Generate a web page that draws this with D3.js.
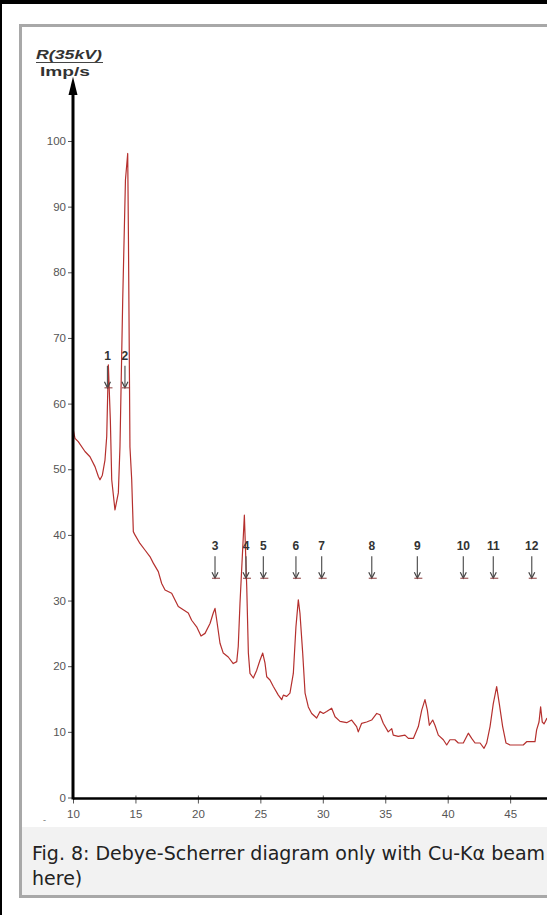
<!DOCTYPE html>
<meta charset="utf-8">
<script src="https://d3js.org/d3.v7.min.js"></script>
<style>
  body{margin:0;background:#fff;}
  svg{display:block;}
  .tick text{font-family:"Liberation Sans Narrow","Liberation Sans",Arial,sans-serif;font-size:11.5px;fill:#555;}
</style>
<div id="chart"></div>
<script>

// 2-theta (deg) vs count rate
var twoTheta = [10.02,10.16,10.42,10.96,11.36,11.76,12.03,12.16,12.35,12.56,12.70,12.83,12.99,13.10,13.36,13.63,13.76,13.98,14.20,14.38,14.44,14.56,14.70,14.83,14.96,15.36,15.76,16.16,16.43,16.83,17.10,17.37,17.90,18.43,18.83,19.23,19.50,19.90,20.25,20.57,20.97,21.23,21.37,21.51,21.77,22.03,22.43,22.83,23.11,23.23,23.37,23.72,23.91,24.04,24.17,24.44,24.71,24.97,25.19,25.37,25.51,25.77,26.04,26.44,26.71,26.84,27.11,27.37,27.64,27.85,28.04,28.17,28.39,28.58,28.84,29.11,29.51,29.78,30.04,30.31,30.71,30.98,31.38,31.91,32.31,32.71,32.84,33.11,33.51,33.91,34.32,34.58,34.84,35.24,35.52,35.64,36.04,36.58,36.85,37.25,37.65,37.92,38.18,38.37,38.53,38.80,38.98,39.25,39.65,39.92,40.18,40.58,40.85,41.25,41.65,41.92,42.19,42.59,42.91,43.12,43.39,43.65,43.92,44.13,44.40,44.67,44.99,45.52,46.05,46.32,46.72,46.99,47.12,47.31,47.44,47.57,47.71,47.95]
var rate = [56.0,54.7,54.2,52.7,51.9,50.4,48.9,48.4,49.1,51.4,55.0,65.9,57.5,48.4,43.8,46.4,53.4,75.8,94.1,98.1,84.9,53.4,48.4,40.5,40.0,38.7,37.7,36.7,35.7,34.4,32.6,31.6,31.1,29.1,28.6,28.1,27.0,26.0,24.6,25.0,26.5,28.1,28.8,27.0,23.5,22.0,21.4,20.4,20.7,23.0,29.6,43.0,32.1,22.0,18.9,18.2,19.4,20.9,22.0,20.5,18.4,17.9,16.9,15.6,14.9,15.6,15.4,15.9,18.9,26.0,30.1,28.1,22.0,15.9,13.8,12.8,12.1,13.1,12.8,13.1,13.6,12.3,11.6,11.4,11.8,10.8,10.0,11.3,11.5,11.8,12.8,12.6,11.3,10.0,10.5,9.5,9.3,9.5,9.0,9.0,10.8,13.3,14.9,13.3,11.0,11.8,11.0,9.5,8.8,8.0,8.8,8.8,8.3,8.3,9.8,9.0,8.3,8.3,7.5,8.3,10.8,14.3,16.9,14.3,10.8,8.3,8.0,8.0,8.0,8.5,8.5,8.5,10.3,11.5,13.8,11.5,11.2,12.1]

// reflex markers
var markerLabels = ["1","2","3","4","5","6","7","8","9","10","11","12"]
var markerAngle = [12.76,14.16,21.37,23.85,25.24,27.85,29.91,33.92,37.57,41.25,43.65,46.73]
var markerLevel = [62.4,62.4,33.4,33.4,33.4,33.4,33.4,33.4,33.4,33.4,33.4,33.4]

var xTicks = [10,15,20,25,30,35,40,45]
var yTicks = [0,10,20,30,40,50,60,70,80,90,100]

var W = 547, H = 915

var svg = d3.select("#chart").append("svg")
  .attr("width", W).attr("height", H)

// outer black edge
svg.append("rect").attr("x",0).attr("y",0).attr("width",W).attr("height",4).attr("fill","#000")
svg.append("rect").attr("x",0).attr("y",0).attr("width",2).attr("height",H).attr("fill","#000")

// grey figure frame + caption band
svg.append("rect").attr("x",20.5).attr("y",25.5).attr("width",700).attr("height",871)
  .attr("fill","#fff").attr("stroke","#a8a8a8").attr("stroke-width",3)
svg.append("rect").attr("x",22).attr("y",827).attr("width",700).attr("height",68).attr("fill","#f2f2f2")

var caption = svg.append("text").attr("font-family","DejaVu Sans").attr("font-size",19).attr("fill","#222")
caption.append("tspan").attr("x",32).attr("y",860).text("Fig. 8: Debye-Scherrer diagram only with Cu-K\u03b1 beam")
caption.append("tspan").attr("x",32).attr("y",885).text("here)")

var x = d3.scaleLinear().domain([10,48]).range([73, 73+38*12.49])
var y = d3.scaleLinear().domain([0,100]).range([797.5,141])

// data line
svg.append("path")
  .datum(d3.range(twoTheta.length))
  .attr("fill","none")
  .attr("stroke","#b5302e")
  .attr("stroke-width",1.2)
  .attr("stroke-linejoin","round")
  .attr("d", d3.line().x(function(i){return x(twoTheta[i])}).y(function(i){return y(rate[i])}))

// y axis
var yAxis = d3.axisLeft(y).tickValues(yTicks).tickSize(5).tickPadding(2)
var gy = svg.append("g").attr("transform","translate("+x(10)+",0)").call(yAxis)
gy.select(".domain").remove()
gy.selectAll(".tick line").attr("stroke","#555").attr("stroke-width",1)

// x axis
var xAxis = d3.axisBottom(x).tickValues(xTicks).tickSize(5).tickPadding(6)
var gx = svg.append("g").attr("transform","translate(0,"+(y(0)+1)+")").call(xAxis)
gx.select(".domain").remove()
gx.selectAll(".tick line").attr("stroke","#555").attr("stroke-width",1).attr("y1",-3)

svg.append("line").attr("x1",x(10)).attr("x2",W+5).attr("y1",y(0)+1).attr("y2",y(0)+1)
  .attr("stroke","#000").attr("stroke-width",2.5)
svg.append("line").attr("x1",x(10)).attr("x2",x(10)).attr("y1",y(0)+2).attr("y2",y(108))
  .attr("stroke","#000").attr("stroke-width",3)
svg.append("path")
  .attr("d","M"+x(10)+","+(y(109.5)-2)+"L"+(x(10)-4.5)+","+(y(107))+"L"+(x(10)+4.5)+","+(y(107))+"Z")
  .attr("fill","#000")

svg.append("text").attr("x",43).attr("y",823).attr("font-size",9).attr("fill","#666").text("-")

// axis title
svg.append("text").attr("x",36).attr("y",59)
  .attr("font-family","Liberation Sans,Arial").attr("font-weight","bold").attr("font-style","italic")
  .attr("font-size",13).attr("fill","#333")
  .attr("textLength",66).attr("lengthAdjust","spacingAndGlyphs")
  .text("R(35kV)")
svg.append("line").attr("x1",36).attr("x2",103).attr("y1",62.5).attr("y2",62.5).attr("stroke","#444").attr("stroke-width",1)
svg.append("text").attr("x",40).attr("y",76)
  .attr("font-family","Liberation Sans,Arial").attr("font-weight","bold")
  .attr("font-size",12).attr("fill","#333")
  .attr("textLength",50).attr("lengthAdjust","spacingAndGlyphs")
  .text("Imp/s")

// markers: number + down arrow
var mk = svg.append("g").selectAll("g").data(markerLabels).enter().append("g")
  .attr("transform", function(d,i){ return "translate("+x(markerAngle[i])+","+y(markerLevel[i])+")" })
mk.append("text").attr("text-anchor","middle").attr("y",-28)
  .attr("font-family","Liberation Sans,Arial").attr("font-weight","bold").attr("font-size",12).attr("fill","#333")
  .text(function(d){return d})
mk.append("line").attr("x1",0).attr("x2",0).attr("y1",-22).attr("y2",-1).attr("stroke","#555").attr("stroke-width",1.2)
mk.append("path").attr("d","M-3,-6L0,0L3,-6").attr("fill","none").attr("stroke","#444").attr("stroke-width",1.2)
mk.append("line").attr("x1",-3).attr("x2",5).attr("y1",0).attr("y2",0).attr("stroke","#8a3a3a").attr("stroke-width",1)

</script>
